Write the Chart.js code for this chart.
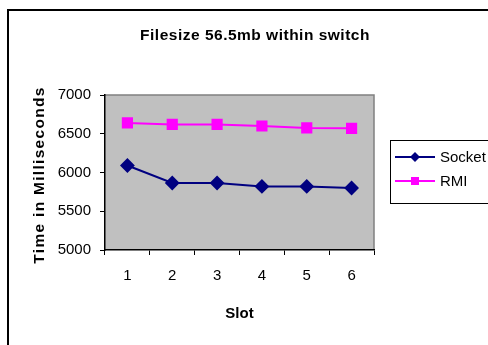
<!DOCTYPE html>
<html><head><meta charset="utf-8">
<script src="https://cdn.jsdelivr.net/npm/chart.js@4/dist/chart.umd.min.js"></script>
<style>html,body{margin:0;padding:0;background:#fff;overflow:hidden}#wrap{width:488px;height:345px;position:relative}</style>
</head><body><div id="wrap"><canvas id="c" width="488" height="345"></canvas></div>
<script>
const categories = ['1', '2', '3', '4', '5', '6'];
const socketValues = [6090, 5865, 5865, 5820, 5820, 5800];
const rmiValues = [6640, 6620, 6620, 6600, 6575, 6570];
const yMin = 5000, yMax = 7000, yStep = 500;
const chartTitle = 'Filesize 56.5mb within switch';
const xTitle = 'Slot';
const yTitle = 'Time in Milliseconds';
const seriesNames = ['Socket', 'RMI'];

const FONT = '"Liberation Sans", Arial, sans-serif';

function marker(ctx, style, x, y, r, color) {
  ctx.save();
  ctx.fillStyle = color;
  ctx.beginPath();
  if (style === 'rectRot') {
    ctx.moveTo(x, y - r); ctx.lineTo(x + r, y); ctx.lineTo(x, y + r); ctx.lineTo(x - r, y);
  } else {
    ctx.rect(x - r, y - r, 2 * r, 2 * r);
  }
  ctx.closePath();
  ctx.fill();
  ctx.restore();
}

const decor = {
  id: 'decor',
  beforeDraw(chart) {
    const ctx = chart.ctx, a = chart.chartArea;
    ctx.save();
    ctx.fillStyle = '#fff';
    ctx.fillRect(0, 0, chart.width, chart.height);
    ctx.strokeStyle = '#000';
    ctx.lineWidth = 2;
    ctx.beginPath();
    ctx.moveTo(8, chart.height + 2);
    ctx.lineTo(8, 10);
    ctx.lineTo(chart.width + 2, 10);
    ctx.stroke();
    ctx.fillStyle = '#C0C0C0';
    ctx.fillRect(a.left, a.top, a.right - a.left, a.bottom - a.top);
    ctx.strokeStyle = '#808080';
    ctx.lineWidth = 1.5;
    ctx.beginPath();
    ctx.moveTo(a.left, a.top);
    ctx.lineTo(a.right, a.top);
    ctx.lineTo(a.right, a.bottom);
    ctx.stroke();
    ctx.restore();
  },
  afterDraw(chart) {
    const ctx = chart.ctx;
    ctx.save();
    // Title
    ctx.fillStyle = '#000';
    ctx.font = 'bold 15.5px ' + FONT;
    ctx.textAlign = 'center';
    ctx.textBaseline = 'middle';
    try { ctx.letterSpacing = '0.5px'; } catch (e) {}
    ctx.fillText(chartTitle, 255, 36);
    // Y title
    ctx.save();
    ctx.translate(40, 175);
    ctx.rotate(-Math.PI / 2);
    ctx.font = 'bold 15.5px ' + FONT;
    try { ctx.letterSpacing = '1.3px'; } catch (e) {}
    ctx.fillText(yTitle, 0, 0);
    ctx.restore();
    try { ctx.letterSpacing = '0px'; } catch (e) {}
    // Legend
    const lx = 390, ly = 140, lw = 110, lh = 63;
    ctx.fillStyle = '#fff';
    ctx.fillRect(lx, ly, lw, lh);
    ctx.strokeStyle = '#000';
    ctx.lineWidth = 1;
    ctx.strokeRect(lx + 0.5, ly + 0.5, lw, lh);
    const rows = [157, 181];
    chart.data.datasets.forEach((ds, i) => {
      const y = rows[i];
      ctx.strokeStyle = ds.borderColor;
      ctx.lineWidth = 2;
      ctx.beginPath();
      ctx.moveTo(395, y);
      ctx.lineTo(435, y);
      ctx.stroke();
      marker(ctx, ds.pointStyle, 415, y, ds.pointStyle === 'rectRot' ? 5 : 4, ds.borderColor);
      ctx.fillStyle = '#000';
      ctx.font = '15px ' + FONT;
      ctx.textAlign = 'left';
      ctx.textBaseline = 'middle';
      ctx.fillText(ds.label, 440, y + 1);
    });
    ctx.restore();
  }
};

new Chart(document.getElementById('c'), {
  type: 'line',
  data: {
    labels: categories,
    datasets: [
      {
        label: seriesNames[0], data: socketValues,
        borderColor: '#000080', backgroundColor: '#000080',
        pointStyle: 'rectRot', pointRadius: 6, pointHoverRadius: 6,
        borderWidth: 2, tension: 0, fill: false
      },
      {
        label: seriesNames[1], data: rmiValues,
        borderColor: '#FF00FF', backgroundColor: '#FF00FF',
        pointStyle: 'rect', pointRadius: 6.5, pointHoverRadius: 6.5,
        borderWidth: 2, tension: 0, fill: false
      }
    ]
  },
  options: {
    responsive: false,
    animation: false,
    devicePixelRatio: 1,
    layout: { padding: { left: 0, top: 95, right: 114, bottom: 0 } },
    plugins: { legend: { display: false }, title: { display: false }, tooltip: { enabled: false } },
    scales: {
      x: {
        offset: true,
        grid: { offset: true, drawOnChartArea: false, tickLength: 5, color: '#000' },
        border: { color: '#000', width: 1.5 },
        ticks: { color: '#000', font: { size: 15, family: FONT }, padding: 12 },
        title: { display: true, text: xTitle, color: '#000', font: { size: 15, weight: 'bold', family: FONT }, padding: { top: 0, bottom: 22 } },
        afterFit(s) { s.height = 95; }
      },
      y: {
        min: yMin, max: yMax,
        grid: { drawOnChartArea: false, tickLength: 5, color: '#000' },
        border: { color: '#000', width: 1.5 },
        ticks: { stepSize: yStep, color: '#000', font: { size: 15, family: FONT }, padding: 9, callback: (v) => String(v) },
        afterFit(s) { s.width = 105; }
      }
    }
  },
  plugins: [decor]
});
</script>
</body></html>
